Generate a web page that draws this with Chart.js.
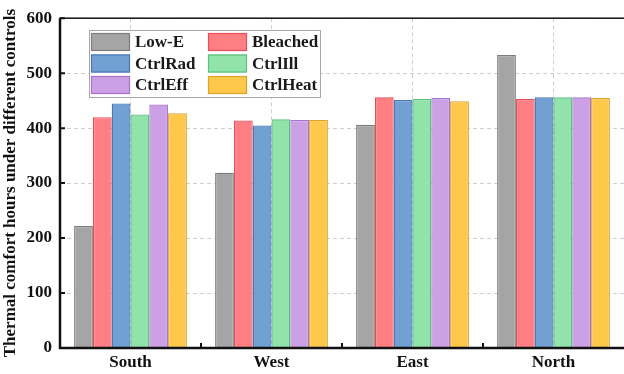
<!DOCTYPE html>
<html>
<head>
<meta charset="utf-8">
<script src="https://cdn.jsdelivr.net/npm/chart.js@4"></script>
<style>
  html, body { margin: 0; padding: 0; background: #fff; }
  #wrap { width: 624px; height: 374px; position: relative; }
</style>
</head>
<body>
<div id="wrap"><canvas id="myChart"></canvas></div>
<script>
const categories = ['South', 'West', 'East', 'North'];
const seriesNames = ['Low-E', 'Bleached', 'CtrlRad', 'CtrlIll', 'CtrlEff', 'CtrlHeat'];
const lowE     = [222, 319, 406, 533];
const bleached = [420, 414, 456, 453];
const ctrlRad  = [445, 405, 451, 456];
const ctrlIll  = [425, 416, 453, 456];
const ctrlEff  = [443, 415, 455, 456];
const ctrlHeat = [427, 415, 449, 455];
const yTicks = [0, 100, 200, 300, 400, 500, 600];

const fills   = ['#a5a5a5', '#ff7f84', '#71a0d2', '#92e2ab', '#cca0e4', '#fec84a'];
const borders = ['#7d7d7d', '#e84d57', '#4a78ba', '#5cc27e', '#a874d2', '#dca22a'];
const FONT = '"Liberation Serif", "Times New Roman", serif';

const series = [lowE, bleached, ctrlRad, ctrlIll, ctrlEff, ctrlHeat];

// frame, inward ticks and the two-column legend
const framePlugin = {
    id: 'frame',
    afterDraw(chart) {
        const { ctx, chartArea: a, scales } = chart;
        ctx.save();
        ctx.strokeStyle = '#111';
        ctx.lineWidth = 1.5;
        ctx.strokeRect(a.left, a.top, a.right - a.left + 10, a.bottom - a.top);
        ctx.lineWidth = 2.5;
        ctx.beginPath();
        ctx.moveTo(a.left - 1, a.bottom);
        ctx.lineTo(a.right + 10, a.bottom);
        ctx.moveTo(a.left, a.top);
        ctx.lineTo(a.left, a.bottom + 1);
        ctx.stroke();
        ctx.lineWidth = 2;
        ctx.beginPath();
        yTicks.forEach(v => {
            const y = scales.y.getPixelForValue(v);
            ctx.moveTo(a.left, y);
            ctx.lineTo(a.left + 5, y);
        });
        const step = (a.right - a.left) / categories.length;
        for (let i = 1; i < categories.length; i++) {
            const x = a.left + step * i;
            ctx.moveTo(x, a.bottom);
            ctx.lineTo(x, a.bottom - 5);
        }
        ctx.stroke();

        // legend
        const bx = 89, by = 30, bw = 231, bh = 67;
        ctx.fillStyle = '#fff';
        ctx.fillRect(bx, by, bw, bh);
        ctx.strokeStyle = '#a8a8a8';
        ctx.lineWidth = 1;
        ctx.strokeRect(bx + 0.5, by + 0.5, bw, bh);
        ctx.font = 'bold 17px ' + FONT;
        ctx.textBaseline = 'middle';
        ctx.textAlign = 'left';
        chart.data.datasets.forEach((ds, i) => {
            const col = i % 2, row = Math.floor(i / 2);
            const sx = col ? 208 : 91;
            const sy = 33 + row * 21.5;
            ctx.fillStyle = ds.backgroundColor;
            ctx.fillRect(sx, sy, 39, 18);
            ctx.strokeStyle = ds.borderColor;
            ctx.lineWidth = 1.2;
            ctx.strokeRect(sx + 0.5, sy + 0.5, 38, 17);
            ctx.fillStyle = '#1a1a1a';
            ctx.fillText(ds.label, sx + 44, sy + 10);
        });
        ctx.restore();
    }
};

new Chart('myChart', {
    type: 'bar',
    data: {
        labels: categories,
        datasets: seriesNames.map((name, i) => ({
            label: name,
            data: series[i],
            backgroundColor: fills[i],
            borderColor: borders[i],
            borderWidth: 1.3,
            categoryPercentage: 0.8,
            barPercentage: 1.0
        }))
    },
    options: {
        responsive: true,
        maintainAspectRatio: false,
        animation: false,
        layout: { padding: { top: 18, right: -4, left: 0, bottom: 0 } },
        scales: {
            x: {
                grid: { offset: false, color: '#cfcfcf', drawTicks: false },
                border: { display: false, dash: [4, 3] },
                ticks: { color: '#111', font: { family: FONT, size: 17, weight: 'bold' }, padding: 4 },
                afterFit: s => { s.height = 26; }
            },
            y: {
                min: 0, max: 600,
                afterBuildTicks: s => { s.ticks = yTicks.map(v => ({ value: v })); },
                grid: { color: '#cfcfcf', drawTicks: false },
                border: { display: false, dash: [4, 3] },
                ticks: { color: '#111', font: { family: FONT, size: 17, weight: 'bold' }, padding: 8 },
                title: {
                    display: true,
                    text: 'Thermal comfort hours under different controls',
                    color: '#111',
                    font: { family: FONT, size: 17, weight: 'bold' },
                    padding: { top: 0, bottom: 0 }
                },
                afterFit: s => { s.width = 60; }
            }
        },
        plugins: {
            legend: { display: false },
            tooltip: { enabled: false }
        }
    },
    plugins: [framePlugin]
});
</script>
</body>
</html>
